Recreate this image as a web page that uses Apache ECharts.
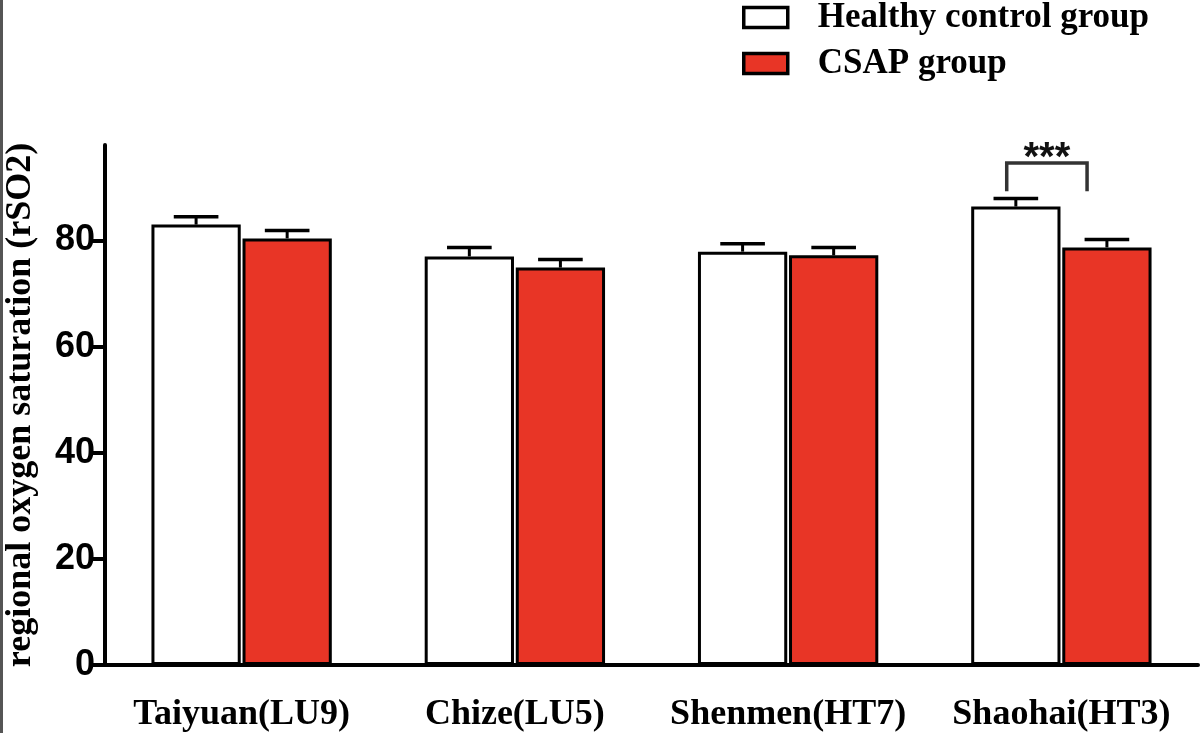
<!DOCTYPE html>
<html><head><meta charset="utf-8">
<script src="https://cdn.jsdelivr.net/npm/echarts@6/dist/echarts.min.js"></script>
<style>html,body{margin:0;padding:0;background:#fff}#c{width:1200px;height:733px}</style>
</head><body><div id="c"></div>
<script>
var categories = ['Taiyuan(LU9)', 'Chize(LU5)', 'Shenmen(HT7)', 'Shaohai(HT3)'];
var healthyMean = [83.0, 77.0, 77.9, 86.4];
var healthyErr = [1.5, 1.7, 1.5, 1.5];
var csapMean = [80.4, 74.9, 77.2, 78.7];
var csapErr = [1.5, 1.5, 1.5, 1.5];
var yTicks = [0, 20, 40, 60, 80];
var sigCategory = 3;
var sigLabel = '***';
var sigTop = 94.6;
var sigBottom = 89.3;

var RED = '#E83526';
var barCategoryGap = 0.34, barGapRatio = 0.02;

function barCenters(api) {
  var band = api.size([1, 0])[0];
  var bw = band * (1 - barCategoryGap) / (2 + barGapRatio);
  var gap = bw * barGapRatio;
  return [-(bw + gap) / 2, (bw + gap) / 2, bw];
}

function errRender(which) {
  return function (params, api) {
    var ci = api.value(0), v = api.value(1), e = api.value(2);
    var p0 = api.coord([ci, v]);
    var p1 = api.coord([ci, v + e]);
    var bc = barCenters(api);
    var x = p0[0] + bc[which];
    var half = bc[2] * 0.25;
    return { type: 'group', children: [
      { type: 'line', shape: { x1: x, y1: p0[1], x2: x, y2: p1[1] }, style: { stroke: '#000', lineWidth: 3 } },
      { type: 'line', shape: { x1: x - half, y1: p1[1], x2: x + half, y2: p1[1] }, style: { stroke: '#000', lineWidth: 3.5 } }
    ]};
  };
}

var chart = echarts.init(document.getElementById('c'));
chart.setOption({
  animation: false,
  backgroundColor: '#fff',
  grid: { left: 105, right: 2, top: 145, bottom: 68, outerBoundsMode: 'none', containLabel: false },
  legend: {
    orient: 'vertical', left: 742, top: 0, padding: 0, itemWidth: 44, itemHeight: 20, itemGap: 11,
    icon: 'rect',
    itemStyle: { borderWidth: 3.5, borderColor: '#000' },
    data: ['Healthy control group', 'CSAP group'],
    textStyle: { fontFamily: 'Liberation Serif', fontWeight: 'bold', fontSize: 35, lineHeight: 30, color: '#000', padding: [0, 0, 0, 25] }
  },
  xAxis: {
    type: 'category', data: categories,
    axisLine: { lineStyle: { color: '#000', width: 4 } },
    axisTick: { show: false },
    axisLabel: { interval: 0, margin: 32, color: '#000', fontFamily: 'Liberation Serif', fontWeight: 'bold', fontSize: 36 }
  },
  yAxis: {
    type: 'value', min: 0, max: 98, interval: 20,
    name: 'regional oxygen saturation (rSO2)', nameLocation: 'middle', nameGap: 66,
    nameTextStyle: { fontFamily: 'Liberation Serif', fontWeight: 'bold', fontSize: 36, color: '#000' },
    splitLine: { show: false },
    axisLine: { show: true, lineStyle: { color: '#000', width: 4 } },
    axisTick: { show: true, length: 12, lineStyle: { color: '#000', width: 4 }, customValues: yTicks },
    axisLabel: { margin: 10, color: '#000', fontFamily: 'Liberation Sans', fontWeight: 'bold', fontSize: 36, customValues: yTicks }
  },
  series: [
    { name: 'Healthy control group', type: 'bar', data: healthyMean,
      barCategoryGap: '34%', barGap: '2%',
      itemStyle: { color: '#fff', borderColor: '#000', borderWidth: 3 } },
    { name: 'CSAP group', type: 'bar', data: csapMean,
      barCategoryGap: '34%', barGap: '2%',
      itemStyle: { color: RED, borderColor: '#000', borderWidth: 3 } },
    { type: 'custom', renderItem: errRender(0), z: 5,
      data: healthyMean.map(function (v, i) { return [i, v, healthyErr[i]]; }) },
    { type: 'custom', renderItem: errRender(1), z: 5,
      data: csapMean.map(function (v, i) { return [i, v, csapErr[i]]; }) },
    { type: 'custom', z: 5, data: [[sigCategory, sigTop, sigBottom]],
      renderItem: function (params, api) {
        var ci = api.value(0);
        var pt = api.coord([ci, api.value(1)]);
        var pb = api.coord([ci, api.value(2)]);
        var band = api.size([1, 0])[0];
        var xl = pt[0] - band * 0.2, xr = pt[0] + band * 0.094;
        var st = { stroke: '#333', lineWidth: 3.5, fill: null };
        return { type: 'group', children: [
          { type: 'polyline', shape: { points: [[xl, pb[1]], [xl, pt[1]], [xr, pt[1]], [xr, pb[1]]] }, style: st },
          { type: 'text', style: { x: (xl + xr) / 2, y: pt[1] - 4, text: sigLabel, textAlign: 'center', textVerticalAlign: 'middle',
            fontFamily: 'Liberation Sans', fontWeight: 'bold', fontSize: 40, fill: '#111' } }
        ]};
      } }
  ],
  graphic: [{ type: 'rect', left: 0, top: 0, shape: { width: 3, height: 733 }, style: { fill: '#555' } }]
});
</script></body></html>
